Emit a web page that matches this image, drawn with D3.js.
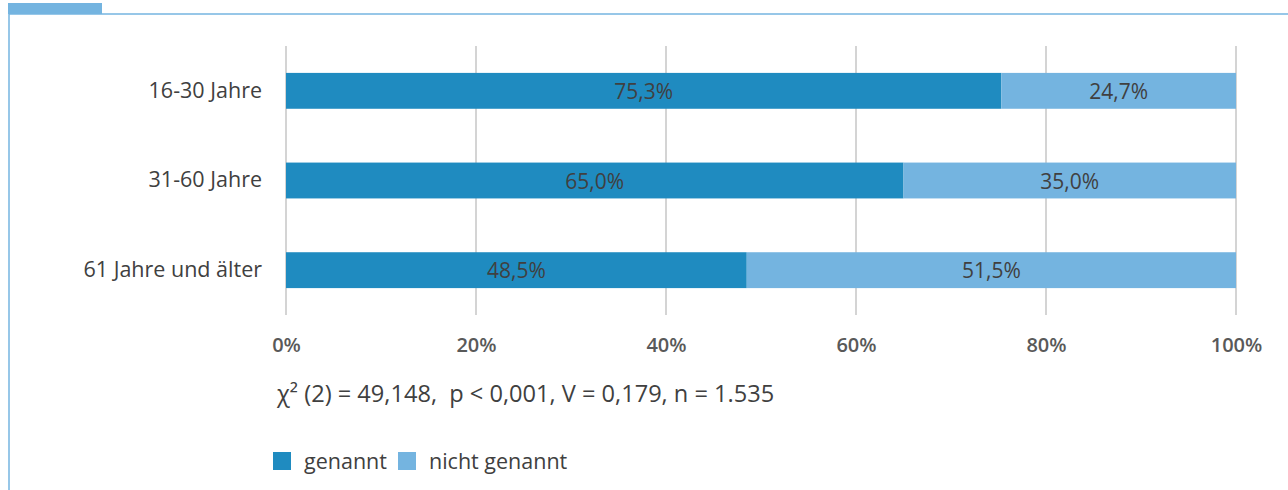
<!DOCTYPE html>
<html><head><meta charset="utf-8">
<script src="https://cdn.jsdelivr.net/npm/d3@7"></script>
<style>body{margin:0;background:#fff;}svg{display:block;font-family:"Open Sans",sans-serif;}</style>
</head><body><svg id="c" width="1288" height="490"></svg>
<script>
const categories = ["16-30 Jahre", "31-60 Jahre", "61 Jahre und älter"];
const genannt = [75.3, 65.0, 48.5];
const nichtGenannt = [24.7, 35.0, 51.5];
const seriesNames = ["genannt", "nicht genannt"];
const tickValues = [0, 20, 40, 60, 80, 100];
const statText = "χ² (2) = 49,148,  p < 0,001, V = 0,179, n = 1.535";

const colors = ["#1f8bc0", "#74b4e0"];
const svg = d3.select("#c");

// frame
svg.append("rect").attr("x", 8).attr("y", 3).attr("width", 94).attr("height", 11).attr("fill", "#74b4e0");
svg.append("line").attr("x1", 9).attr("x2", 1288).attr("y1", 14).attr("y2", 14).attr("stroke", "#74b4e0").attr("stroke-width", 1.5);
svg.append("line").attr("x1", 9).attr("x2", 9).attr("y1", 14).attr("y2", 490).attr("stroke", "#74b4e0").attr("stroke-width", 1.5);

const x = d3.scaleLinear().domain([0, 100]).range([286, 1236]);
const y = d3.scaleBand().domain(categories).range([46, 315]).paddingInner(0.6).paddingOuter(0.3);

// grid
svg.append("g").selectAll("line").data(tickValues).join("line")
  .attr("x1", d => x(d)).attr("x2", d => x(d)).attr("y1", 46).attr("y2", 315)
  .attr("stroke", "#d4d4d4").attr("stroke-width", 2);

const fmt = v => d3.format(".1f")(v).replace(".", ",") + "%";
const stacked = categories.map((c, i) => [
  {c, s: 0, x0: 0, x1: genannt[i], v: genannt[i]},
  {c, s: 1, x0: genannt[i], x1: genannt[i] + nichtGenannt[i], v: nichtGenannt[i]}
]).flat();

svg.append("g").selectAll("rect").data(stacked).join("rect")
  .attr("x", d => x(d.x0)).attr("width", d => x(d.x1) - x(d.x0))
  .attr("y", d => y(d.c)).attr("height", y.bandwidth())
  .attr("fill", d => colors[d.s]);

svg.append("g").selectAll("text").data(stacked).join("text")
  .attr("x", d => (x(d.x0) + x(d.x1)) / 2).attr("y", d => y(d.c) + y.bandwidth() / 2 + 8)
  .attr("text-anchor", "middle").attr("font-size", 21).attr("fill", "#404040")
  .text(d => fmt(d.v));

// category labels
const yAxis = d3.axisLeft(y).tickSize(0).tickPadding(24);
const ya = svg.append("g").attr("transform", "translate(286,0)").call(yAxis);
ya.select(".domain").remove();
ya.selectAll("text").attr("font-size", 21.5).attr("fill", "#404040").attr("font-family", "Open Sans, sans-serif");

// x axis
const xAxis = d3.axisBottom(x).tickValues(tickValues).tickSize(0).tickPadding(0).tickFormat(d => d + "%");
const xa = svg.append("g").attr("transform", "translate(0,338)").call(xAxis);
xa.select(".domain").remove();
xa.selectAll("text").attr("font-size", 20).attr("font-weight", 600).attr("fill", "#595959").attr("font-family", "Open Sans, sans-serif");

svg.append("text").attr("x", 277).attr("y", 402).attr("font-size", 23.6).attr("fill", "#404040")
  .style("white-space", "pre").text(statText);

// legend
const lg = svg.append("g");
const lx = [273, 398];
seriesNames.forEach((n, i) => {
  lg.append("rect").attr("x", lx[i]).attr("y", 452).attr("width", 18).attr("height", 18).attr("fill", colors[i]);
  lg.append("text").attr("x", lx[i] + 31).attr("y", 469).attr("font-size", 21.5).attr("fill", "#404040").text(n);
});
</script></body></html>
